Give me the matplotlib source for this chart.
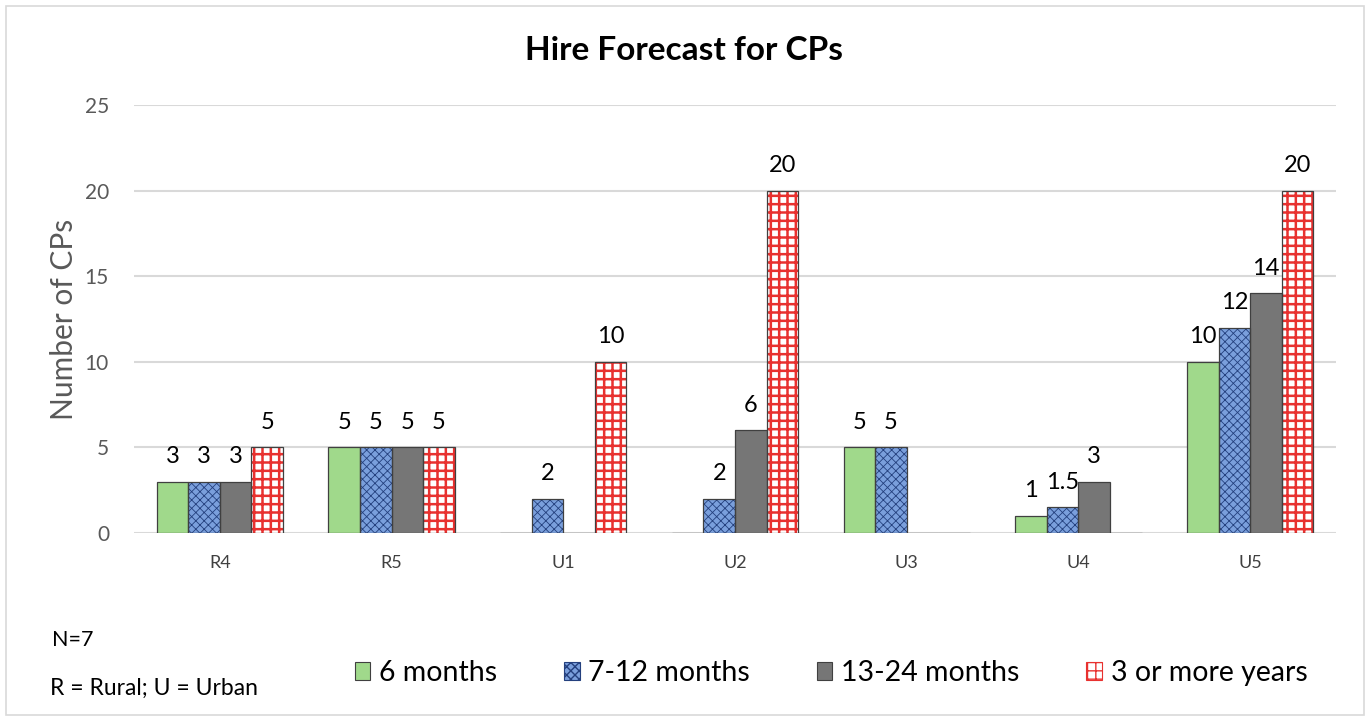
import matplotlib
matplotlib.use("Agg")
import matplotlib.pyplot as plt
from matplotlib.patches import Patch, Rectangle
import numpy as np

categories = ["R4", "R5", "U1", "U2", "U3", "U4", "U5"]
series_names = ["6 months", "7-12 months", "13-24 months", "3 or more years"]
six_months = [3, 5, 0, 0, 5, 1, 10]
m7_12 = [3, 5, 2, 2, 5, 1.5, 12]
m13_24 = [3, 5, 0, 6, 0, 3, 14]
years3 = [5, 5, 10, 20, 0, 0, 20]
yticks = [0, 5, 10, 15, 20, 25]

plt.rcParams['font.family'] = ['Lato', 'DejaVu Sans']

fig = plt.figure(figsize=(13.7, 7.18), dpi=100)
ax = fig.add_axes([134/1370, 185/718, 1202/1370, 428/718])

x = np.arange(len(categories))
w = 0.184
offsets = [-1.5*w, -0.5*w, 0.5*w, 1.5*w]
styles = [
    dict(face='#a0d98b', hatch=None, hcol=None, edge='#404040'),
    dict(face='#7a9fdc', hatch='xxxx', hcol='#24407e', edge='#404040'),
    dict(face='#767676', hatch=None, hcol=None, edge='#404040'),
    dict(face='white', hatch='++', hcol='#e8312f', edge='#404040'),
]
data = [six_months, m7_12, m13_24, years3]

for vals, off, st in zip(data, offsets, styles):
    xs = x + off
    ax.bar(xs, vals, w, color=st['face'], edgecolor='none', linewidth=0, zorder=2)
    if st['hatch']:
        lw_h = 1.8 if st['hatch'] == '++' else 0.6
        with plt.rc_context({'hatch.linewidth': lw_h}):
            ax.bar(xs, vals, w, fill=False, hatch=st['hatch'], edgecolor=st['hcol'], linewidth=0, zorder=3)
    ax.bar(xs, vals, w, fill=False, edgecolor=st['edge'], linewidth=0.9, zorder=4)
    for xi, v in zip(xs, vals):
        if v:
            ax.annotate(f"{v:g}", (xi, v), xytext=(0, 10.5), textcoords='offset points',
                        ha='center', va='bottom', fontsize=17, color='black')

ax.set_xlim(-0.5, len(categories) - 0.5)
ax.set_ylim(0, 25)
ax.set_yticks(yticks)
ax.set_xticks(x)
ax.set_xticklabels(categories, fontsize=13, color='#404040')
ax.tick_params(axis='y', labelsize=15, colors='#595959', length=0, pad=18)
ax.tick_params(axis='x', length=0, pad=16)
ax.grid(axis='y', color='#d9d9d9', linewidth=1.5, zorder=0)
ax.set_axisbelow(True)
for s in ax.spines.values():
    s.set_visible(False)
ax.set_ylabel("Number of CPs", fontsize=21.5, color='#595959', labelpad=5)

fig.text(684/1370, 1 - 50/718, "Hire Forecast for CPs", ha='center', va='center',
         fontsize=24, fontweight='bold', color='black')
fig.text(52/1370, 1 - 640/718, "N=7", ha='left', va='center', fontsize=15.5)
fig.text(50/1370, 1 - 688/718, "R = Rural; U = Urban", ha='left', va='center', fontsize=16.5)

handles = []
for name, st in zip(series_names, styles):
    hp = Patch(facecolor=st['face'], edgecolor=st['hcol'] if st['hatch'] else st['edge'],
               hatch=st['hatch'], linewidth=0.8, label=name)
    handles.append(hp)
fig.legend(handles=handles, loc='center', bbox_to_anchor=(831/1370, 1 - 673/718), ncol=4,
           frameon=False, fontsize=20.5, handlelength=0.55, handleheight=0.55, handletextpad=0.3,
           columnspacing=2.35)

fig.patches.append(Rectangle((6/1370, 0.004), 1358/1370, 1 - 6/718 - 0.004, transform=fig.transFigure,
                             fill=False, edgecolor='#d9d9d9', linewidth=1.2))

fig.savefig("out.png", dpi=100)
